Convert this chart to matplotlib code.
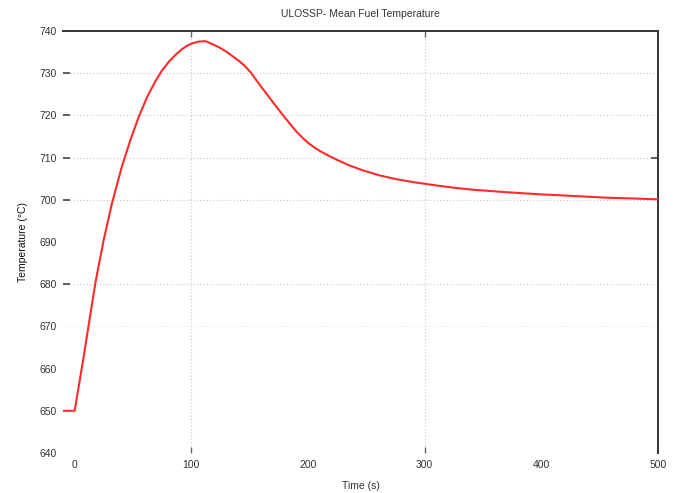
import matplotlib
matplotlib.use("Agg")
import matplotlib.pyplot as plt

time_s = [-10, 0, 7.7, 17.8, 24.9, 32, 40.6, 47.8, 55, 62, 69, 75, 81, 87, 92, 97, 101,
          106.5, 112, 118, 124, 129.5, 135, 140.9, 145.5, 150.9, 155, 159.5, 164, 168.1,
          178.1, 189.6, 195.3, 201, 206, 210, 218, 225.4, 235, 246.8, 261, 275.5, 290, 310,
          327, 341, 370, 399, 428, 456, 480, 500]
temp_c = [650, 650, 662.8, 680.4, 690.5, 699.2, 708.0, 714.2, 719.7, 724.3, 728.0, 730.7,
          732.8, 734.5, 735.7, 736.6, 737.1, 737.5, 737.6, 736.9, 736.1, 735.2, 734.1,
          732.9, 731.8, 730.2, 728.6, 726.9, 725.3, 723.8, 720.2, 716.3, 714.7, 713.3,
          712.3, 711.6, 710.4, 709.4, 708.2, 707.0, 705.8, 704.9, 704.2, 703.4, 702.8,
          702.4, 701.8, 701.3, 700.9, 700.5, 700.3, 700.1]

x_ticks = [0, 100, 200, 300, 400, 500]
y_ticks = [640, 650, 660, 670, 680, 690, 700, 710, 720, 730, 740]

plt.rcParams['font.family'] = ['Liberation Sans', 'DejaVu Sans']

fig = plt.figure(figsize=(6.89, 4.93), dpi=100)
ax = fig.add_axes([63/689, 1 - 453/493, (658 - 63)/689, (453 - 31)/493])

ax.plot(time_s, temp_c, color='#ff2a2a', lw=1.5, zorder=3)

ax.set_xlim(-10, 500)
ax.set_ylim(640, 740)
ax.set_xticks(x_ticks)
ax.set_yticks(y_ticks)

for v in [100, 300]:
    ax.axvline(v, color='#c8c8c8', lw=0.8, ls=(0, (1, 2)), zorder=1)
for v in [680, 700, 710, 720, 730]:
    ax.axhline(v, color='#c8c8c8', lw=0.8, ls=(0, (1, 2)), zorder=1)
ax.axhline(670, color='#e4e4e4', lw=0.8, ls=(0, (1, 2)), zorder=1)

ax.spines['left'].set_visible(False)
ax.spines['bottom'].set_visible(False)
for s in ['top', 'right']:
    ax.spines[s].set_color('#333333')
    ax.spines[s].set_linewidth(1.4)

ax.tick_params(axis='y', direction='in', length=5, width=1.2, color='#444444',
               labelsize=7.5, pad=4.5, labelcolor='#333333', right=True)
ax.tick_params(axis='x', direction='in', length=4, width=1.0, color='#666666',
               labelsize=7.5, pad=5, labelcolor='#333333', top=True)

for tk, v in zip(ax.xaxis.get_major_ticks(), x_ticks):
    if v not in (100, 300):
        tk.tick1line.set_visible(False)
        tk.tick2line.set_visible(False)
for tk, v in zip(ax.yaxis.get_major_ticks(), y_ticks):
    if v not in (680, 700, 710, 720, 730):
        tk.tick1line.set_visible(False)
    if v != 710:
        tk.tick2line.set_visible(False)

ax.set_title('ULOSSP- Mean Fuel Temperature', fontsize=7.5, color='#333333', pad=10)
ax.set_xlabel('Time (s)', fontsize=7.5, color='#333333', labelpad=8)
ax.set_ylabel('Temperature (°C)', fontsize=7.5, color='#111111', labelpad=8)

fig.savefig('out.png', dpi=100, facecolor='white')
